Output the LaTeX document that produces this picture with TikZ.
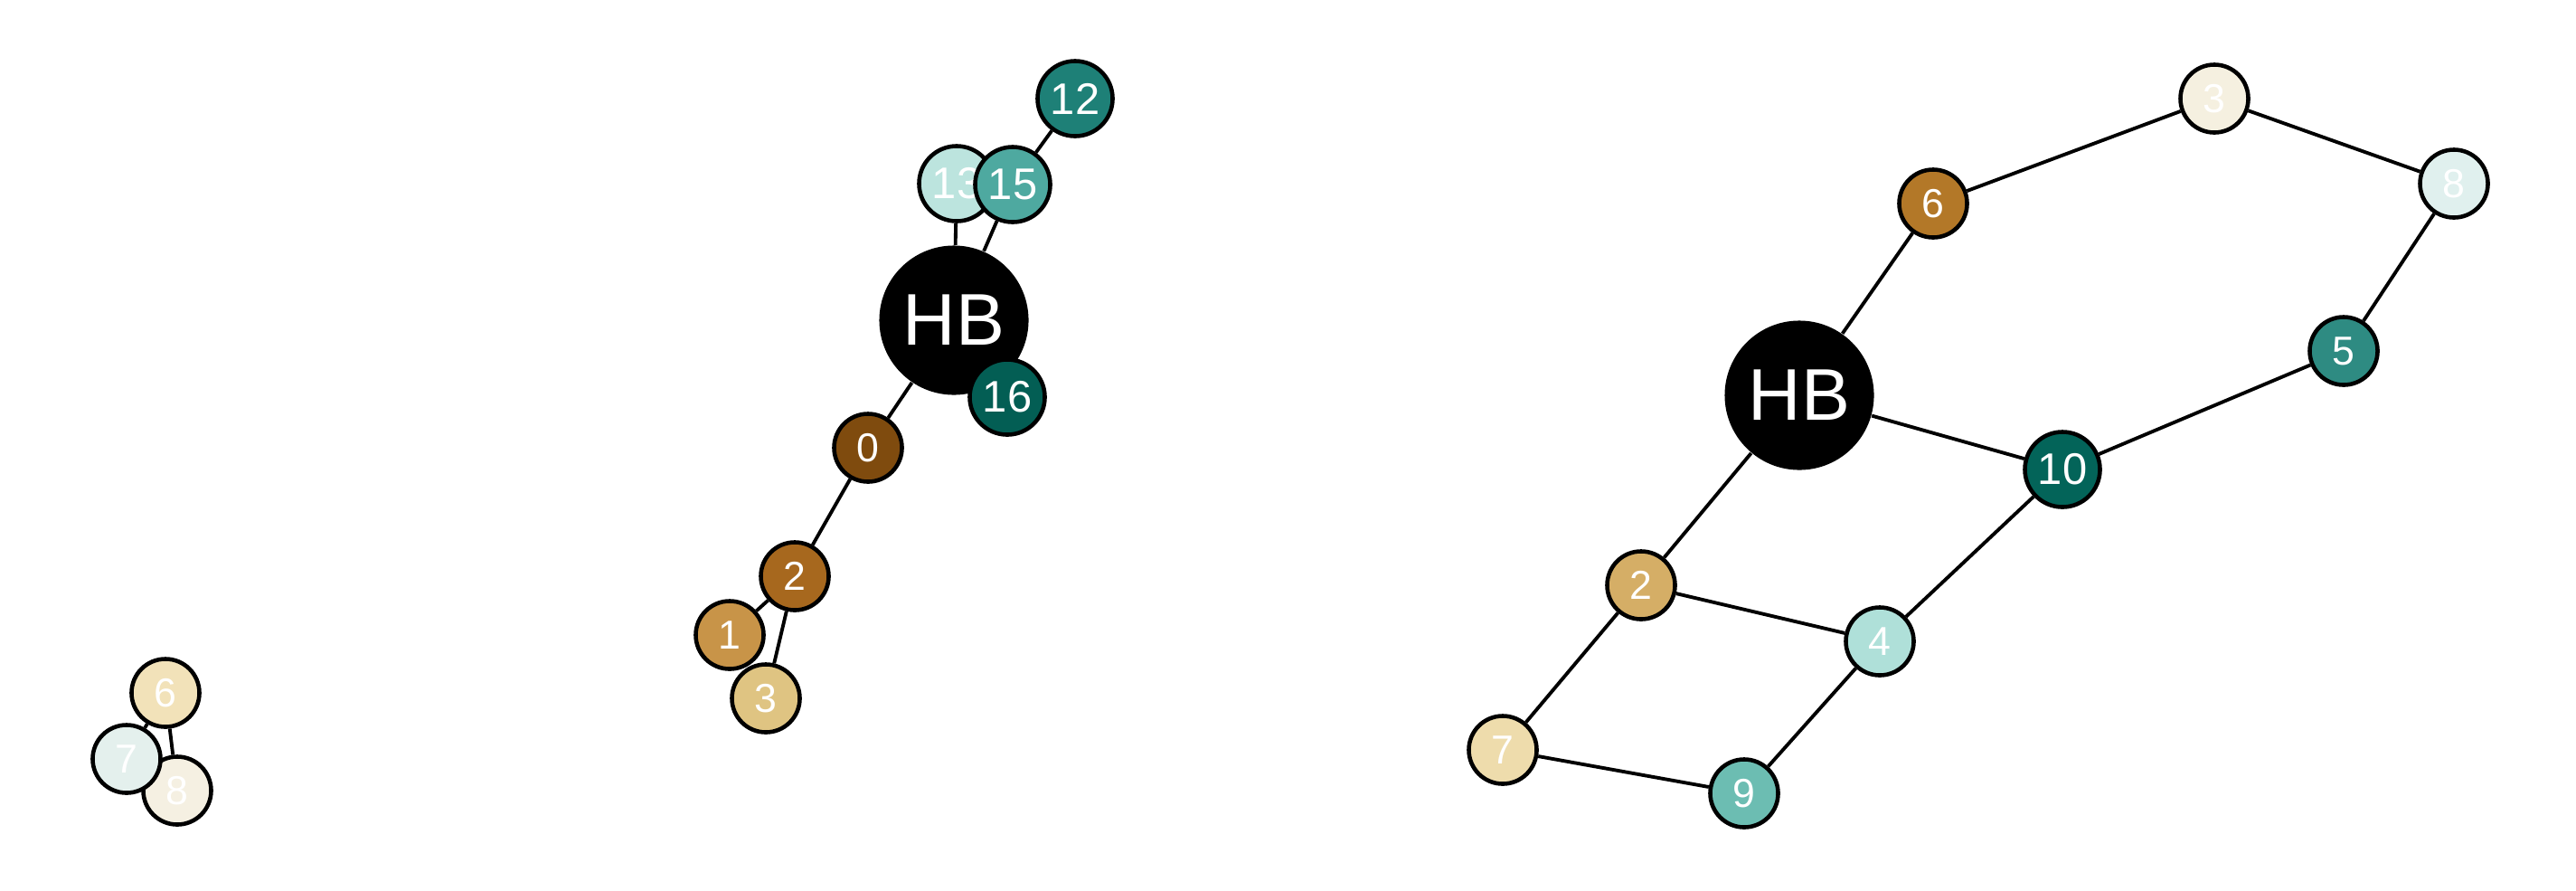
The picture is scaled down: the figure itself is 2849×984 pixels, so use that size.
\documentclass[tikz,border=0pt]{standalone}
\usepackage{fontspec}
\setmainfont{Liberation Sans}
\usepackage{tikz}
\usetikzlibrary{backgrounds}

\definecolor{cA}{HTML}{7F4B0E}
\definecolor{cB}{HTML}{A7681E}
\definecolor{cC}{HTML}{C89448}
\definecolor{cD}{HTML}{DFC482}
\definecolor{cE}{HTML}{F2E2B9}
\definecolor{cF}{HTML}{E4F0ED}
\definecolor{cG}{HTML}{F5F0E2}
\definecolor{cH}{HTML}{BCE4DE}
\definecolor{cI}{HTML}{4EA9A0}
\definecolor{cJ}{HTML}{1E8077}
\definecolor{cK}{HTML}{035E54}
\definecolor{dA}{HTML}{B37828}
\definecolor{dB}{HTML}{F5F0E0}
\definecolor{dC}{HTML}{E0F0EE}
\definecolor{dD}{HTML}{2E8B82}
\definecolor{dE}{HTML}{036459}
\definecolor{dF}{HTML}{AFE0D9}
\definecolor{dG}{HTML}{D5AE66}
\definecolor{dH}{HTML}{EEDCAC}
\definecolor{dI}{HTML}{6CBDB2}

\tikzset{
    vert/.style={draw, circle, line width=1.3pt, inner sep=0pt, minimum size=0.75cm,
        text=white, font=\fontsize{12.7}{13}\selectfont},
    bigvert/.style={vert, minimum size=0.83cm, font=\fontsize{13.9}{14}\selectfont},
    hub/.style={circle, fill=black, inner sep=0pt, minimum size=1.65cm,
        text=white, font=\fontsize{23}{24}\selectfont},
    link/.style={line width=1.1pt}
}

\begin{document}
\begin{tikzpicture}[x=0.01cm, y=-0.01cm]
    \useasboundingbox (0,0) rectangle (2849,984);

    % left drawing
    \node[hub] (lHB) at (1055,354) {HB};
    \node[bigvert, fill=cK] (l16) at (1114,439) {16};
    \node[vert, fill=cA] (l0) at (960,495) {0};
    \node[vert, fill=cB] (l2) at (879,637) {2};
    \node[vert, fill=cC] (l1) at (807,702) {1};
    \node[vert, fill=cD] (l3) at (847,772) {3};
    \node[bigvert, fill=cH] (l13) at (1058,203) {13};
    \node[bigvert, fill=cI] (l15) at (1120,204) {15};
    \node[bigvert, fill=cJ] (l12) at (1189,109) {12};
    \node[vert, fill=cE] (l6) at (183,766) {6};
    \node[vert, fill=cG] (l8) at (196,874) {8};
    \node[vert, fill=cF] (l7) at (140,839) {7};

    % right drawing
    \node[hub] (rHB) at (1990,437) {HB};
    \node[vert, fill=dA] (r6) at (2138,225) {6};
    \node[vert, fill=dB] (r3) at (2449,109) {3};
    \node[vert, fill=dC] (r8) at (2714,203) {8};
    \node[vert, fill=dD] (r5) at (2592,388) {5};
    \node[bigvert, fill=dE] (r10) at (2281,519) {10};
    \node[vert, fill=dF] (r4) at (2079,709) {4};
    \node[vert, fill=dG] (r2) at (1815,647) {2};
    \node[vert, fill=dH] (r7) at (1662,829) {7};
    \node[vert, fill=dI] (r9) at (1929,877) {9};

    \begin{pgfonlayer}{background}
        \draw[link] (lHB) -- (l0) -- (l2) -- (l1);
        \draw[link] (l2) -- (l3);
        \draw[link] (lHB) -- (l13);
        \draw[link] (lHB) -- (l15) -- (l12);
        \draw[link] (l6) -- (l8);
        \draw[link] (l6) -- (l7);
        \draw[link] (rHB) -- (r6) -- (r3) -- (r8) -- (r5) -- (r10) -- (rHB);
        \draw[link] (rHB) -- (r2) -- (r4) -- (r10);
        \draw[link] (r2) -- (r7) -- (r9) -- (r4);
    \end{pgfonlayer}
\end{tikzpicture}
\end{document}
